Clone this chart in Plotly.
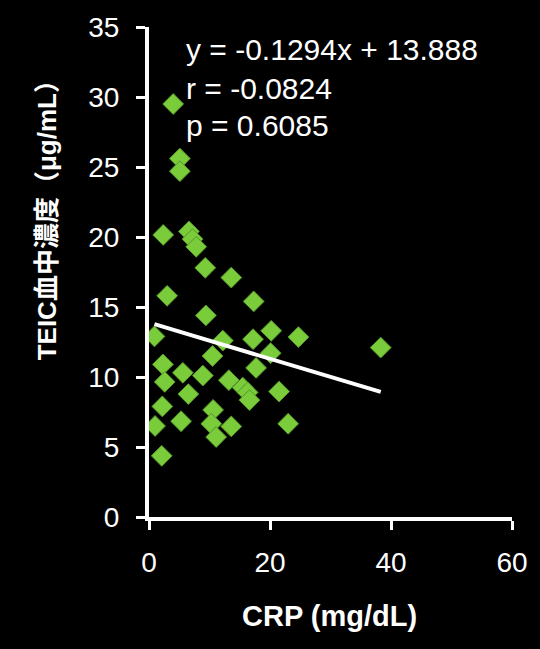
import plotly.graph_objects as go

# Data
crp = [4.0, 5.1, 5.1, 2.35, 6.6, 7.2, 7.8, 9.3, 13.6, 3.0,
       17.3, 9.4, 0.9, 20.2, 24.7, 17.2, 12.2, 38.3, 20.1, 10.5,
       2.3, 5.6, 8.9, 17.7, 2.6, 13.2, 15.5, 16.3, 21.5, 6.5,
       16.6, 2.2, 10.6, 5.3, 1.0, 10.3, 13.6, 23.0, 11.1, 2.1]
teic = [29.5, 25.6, 24.7, 20.15, 20.4, 19.85, 19.3, 17.8, 17.1, 15.8,
        15.4, 14.4, 12.9, 13.3, 12.85, 12.7, 12.6, 12.1, 11.7, 11.5,
        10.9, 10.3, 10.1, 10.65, 9.65, 9.77, 9.24, 8.9, 8.96, 8.78,
        8.35, 7.9, 7.65, 6.84, 6.5, 6.66, 6.47, 6.66, 5.71, 4.37]
slope = -0.1294
intercept = 13.888
stats_lines = ["y = -0.1294x + 13.888", "r = -0.0824", "p = 0.6085"]
x_ticks = [0, 20, 40, 60]
y_ticks = [0, 5, 10, 15, 20, 25, 30, 35]
x_title = "CRP (mg/dL)"
y_title = "TEIC血中濃度（μg/mL）"

FONT = "Liberation Sans, Arial, Noto Sans CJK JP, sans-serif"

fit_x = [min(crp), max(crp)]
fit_y = [slope * v + intercept for v in fit_x]

fig = go.Figure()
fig.add_trace(go.Scatter(
    x=crp, y=teic, mode="markers",
    marker=dict(symbol="diamond", size=16, color="rgb(122,204,58)",
                line=dict(color="rgb(85,150,40)", width=1)),
    showlegend=False, hoverinfo="x+y"))
fig.add_trace(go.Scatter(
    x=fit_x, y=fit_y, mode="lines",
    line=dict(color="white", width=4),
    showlegend=False))

axis_common = dict(
    showgrid=False, zeroline=False, showline=True, linecolor="white",
    linewidth=4, ticks="outside", tickcolor="white", tickwidth=3, ticklen=9,
    tickfont=dict(family=FONT, size=28, color="white"),
)
fig.update_xaxes(range=[0, 60], tickvals=x_ticks, ticklabelstandoff=8, **axis_common)
fig.update_yaxes(range=[0, 35], tickvals=y_ticks, ticklabelstandoff=11, **axis_common)

annotations = []
line_ys = [0.955, 0.875, 0.798]
for txt, yy in zip(stats_lines, line_ys):
    annotations.append(dict(text=txt, x=0.097, y=yy, xref="paper", yref="paper",
                            xanchor="left", yanchor="middle", showarrow=False,
                            font=dict(family=FONT, size=30, color="white")))
annotations.append(dict(text="<b>" + x_title + "</b>", x=0.497, y=-0.203,
                        xref="paper", yref="paper", xanchor="center", yanchor="middle",
                        showarrow=False, font=dict(family=FONT, size=29, color="white")))
annotations.append(dict(text="<b>" + y_title + "</b>", x=-0.282, y=0.619,
                        xref="paper", yref="paper", xanchor="center", yanchor="middle",
                        textangle=-90, showarrow=False,
                        font=dict(family=FONT, size=26, color="white")))

fig.update_layout(
    width=540, height=649,
    margin=dict(l=149, r=26, t=23, b=132),
    paper_bgcolor="black", plot_bgcolor="black",
    annotations=annotations,
    showlegend=False,
)

fig.write_html("out.html")
